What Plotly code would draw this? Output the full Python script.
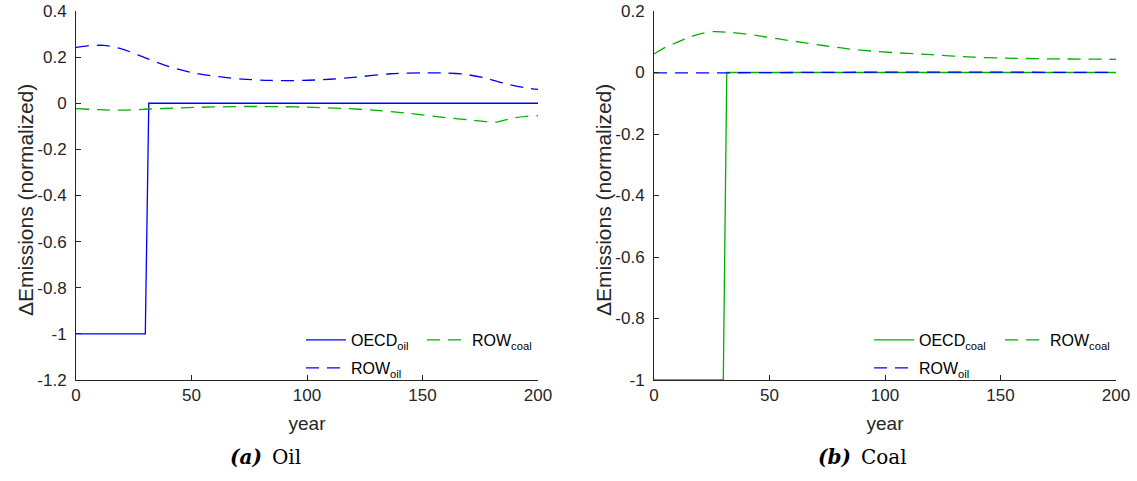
import plotly.graph_objects as go

# ---- data -------------------------------------------------------------
# Panel (a): oil shock
oecd_oil_year = [0, 30, 31.5, 200]
oecd_oil_val = [-1.0, -1.0, 0.0, 0.0]

row_oil_year_a = [0, 5, 12, 20, 30, 40, 50, 62, 72, 84, 98, 110, 120, 136,
                  150, 160, 168, 177, 186, 194, 200]
row_oil_val_a = [0.242, 0.249, 0.251, 0.235, 0.197, 0.160, 0.133, 0.115,
                 0.105, 0.099, 0.099, 0.104, 0.112, 0.128, 0.132, 0.131,
                 0.126, 0.110, 0.085, 0.068, 0.060]

row_coal_year_a = [0, 10, 20, 30, 45, 60, 75, 90, 100, 115, 130, 145, 160,
                   172, 178, 182, 186, 190, 195, 200]
row_coal_val_a = [-0.023, -0.028, -0.030, -0.026, -0.020, -0.016, -0.014,
                  -0.015, -0.017, -0.022, -0.031, -0.045, -0.062, -0.074,
                  -0.080, -0.082, -0.072, -0.063, -0.057, -0.054]

# Panel (b): coal shock
oecd_coal_year = [0, 30, 31.5, 200]
oecd_coal_val = [-1.0, -1.0, 0.0, 0.0]

row_coal_year_b = [0, 5, 10, 15, 20, 26, 32, 44, 54, 64, 74, 84, 97, 110,
                   120, 138, 157, 177, 200]
row_coal_val_b = [0.060, 0.082, 0.098, 0.114, 0.126, 0.133, 0.131, 0.121,
                  0.109, 0.098, 0.087, 0.077, 0.068, 0.062, 0.058, 0.050,
                  0.046, 0.044, 0.043]

row_oil_year_b = [0, 30, 60, 100, 150, 200]
row_oil_val_b = [-0.001, -0.001, 0.000, 0.001, 0.001, 0.000]

x_ticks = [0, 50, 100, 150, 200]
y_ticks_a = [-1.2, -1.0, -0.8, -0.6, -0.4, -0.2, 0.0, 0.2, 0.4]
y_ticks_b = [-1.0, -0.8, -0.6, -0.4, -0.2, 0.0, 0.2]

# ---- styling ----------------------------------------------------------
BLUE = "rgb(0,0,255)"
GREEN = "rgb(0,176,0)"
AXIS = "rgb(38,38,38)"
DASH = "13px,8px"
SANS = "Liberation Sans, Arial, sans-serif"
SERIF = "DejaVu Serif, Liberation Serif, serif"

W, H = 1137, 481


def px_x(v):
    return v / W


def px_y(v):
    return (H - v) / H


def tick_text(vals):
    out = []
    for v in vals:
        s = f"{v:.1f}".rstrip("0").rstrip(".")
        if s in ("-0", ""):
            s = "0"
        out.append(s)
    return out


fig = go.Figure()

# panel (a)
fig.add_trace(go.Scatter(x=oecd_oil_year, y=oecd_oil_val, mode="lines",
                         name="OECD<sub>oil</sub>", legend="legend",
                         line=dict(color=BLUE, width=1.3),
                         xaxis="x", yaxis="y"))
fig.add_trace(go.Scatter(x=row_coal_year_a, y=row_coal_val_a, mode="lines",
                         name="ROW<sub>coal</sub>", legend="legend2",
                         line=dict(color=GREEN, width=1.3, dash=DASH,
                                   shape="spline", smoothing=0.8),
                         xaxis="x", yaxis="y"))
fig.add_trace(go.Scatter(x=row_oil_year_a, y=row_oil_val_a, mode="lines",
                         name="ROW<sub>oil</sub>", legend="legend3",
                         line=dict(color=BLUE, width=1.3, dash=DASH,
                                   shape="spline", smoothing=0.8),
                         xaxis="x", yaxis="y"))

# panel (b)
fig.add_trace(go.Scatter(x=oecd_coal_year, y=oecd_coal_val, mode="lines",
                         name="OECD<sub>coal</sub>", legend="legend4",
                         line=dict(color=GREEN, width=1.3),
                         xaxis="x2", yaxis="y2"))
fig.add_trace(go.Scatter(x=row_coal_year_b, y=row_coal_val_b, mode="lines",
                         name="ROW<sub>coal</sub>", legend="legend5",
                         line=dict(color=GREEN, width=1.3, dash=DASH,
                                   shape="spline", smoothing=0.8),
                         xaxis="x2", yaxis="y2"))
fig.add_trace(go.Scatter(x=row_oil_year_b, y=row_oil_val_b, mode="lines",
                         name="ROW<sub>oil</sub>", legend="legend6",
                         line=dict(color=BLUE, width=1.3, dash=DASH,
                                   shape="spline", smoothing=0.8),
                         xaxis="x2", yaxis="y2"))

axis_common = dict(showline=True, linecolor=AXIS, linewidth=1,
                   ticks="inside", ticklen=5, tickcolor=AXIS, tickwidth=1,
                   showgrid=False, zeroline=False, automargin=False,
                   tickfont=dict(family=SANS, size=17, color=AXIS))

title_font = dict(family=SANS, size=19, color=AXIS)
ylabel_font = dict(family=SANS, size=21, color=AXIS)
y_dom = [px_y(380), px_y(11)]

fig.update_layout(
    width=W, height=H,
    margin=dict(l=0, r=0, t=0, b=0, autoexpand=False),
    paper_bgcolor="white", plot_bgcolor="white",
    xaxis=dict(domain=[px_x(76), px_x(538)], range=[0, 200],
               tickvals=x_ticks, anchor="y",
               title=dict(text="year", standoff=12, font=title_font),
               **axis_common),
    yaxis=dict(domain=y_dom, range=[-1.2, 0.4], anchor="x",
               tickvals=y_ticks_a, ticktext=tick_text(y_ticks_a),
               ticklabelstandoff=5, **axis_common),
    xaxis2=dict(domain=[px_x(654), px_x(1116)], range=[0, 200],
                tickvals=x_ticks, anchor="y2",
                title=dict(text="year", standoff=12, font=title_font),
                **axis_common),
    yaxis2=dict(domain=y_dom, range=[-1.0, 0.2], anchor="x2",
                tickvals=y_ticks_b, ticktext=tick_text(y_ticks_b),
                ticklabelstandoff=5, **axis_common),
    showlegend=True,
)

# y-axis labels, rotated
for xc in (25, 603):
    fig.add_annotation(x=px_x(xc), y=px_y(200), xref="paper", yref="paper",
                       xanchor="center", yanchor="middle", textangle=-90,
                       text="ΔEmissions (normalized)", showarrow=False,
                       font=ylabel_font)

legend_font = dict(family=SANS, size=16, color="black")


def legend_at(x_px, y_px):
    return dict(x=px_x(x_px), y=px_y(y_px), xanchor="left", yanchor="middle",
                bgcolor="rgba(0,0,0,0)", borderwidth=0, font=legend_font,
                itemwidth=40, tracegroupgap=0)


fig.update_layout(
    legend=legend_at(301, 340),
    legend2=legend_at(422, 340),
    legend3=legend_at(301, 368),
    legend4=legend_at(869, 340),
    legend5=legend_at(1000, 340),
    legend6=legend_at(869, 368),
)

# sub-figure captions
cap_font = dict(family=SERIF, size=20, color="black")
fig.add_annotation(x=px_x(265), y=px_y(457), xref="paper", yref="paper",
                   xanchor="center", yanchor="middle",
                   text="<b><i>(a)</i></b>\u2002Oil", showarrow=False,
                   font=cap_font)
fig.add_annotation(x=px_x(862), y=px_y(457), xref="paper", yref="paper",
                   xanchor="center", yanchor="middle",
                   text="<b><i>(b)</i></b>\u2002Coal", showarrow=False,
                   font=cap_font)

fig.write_html("out.html")
